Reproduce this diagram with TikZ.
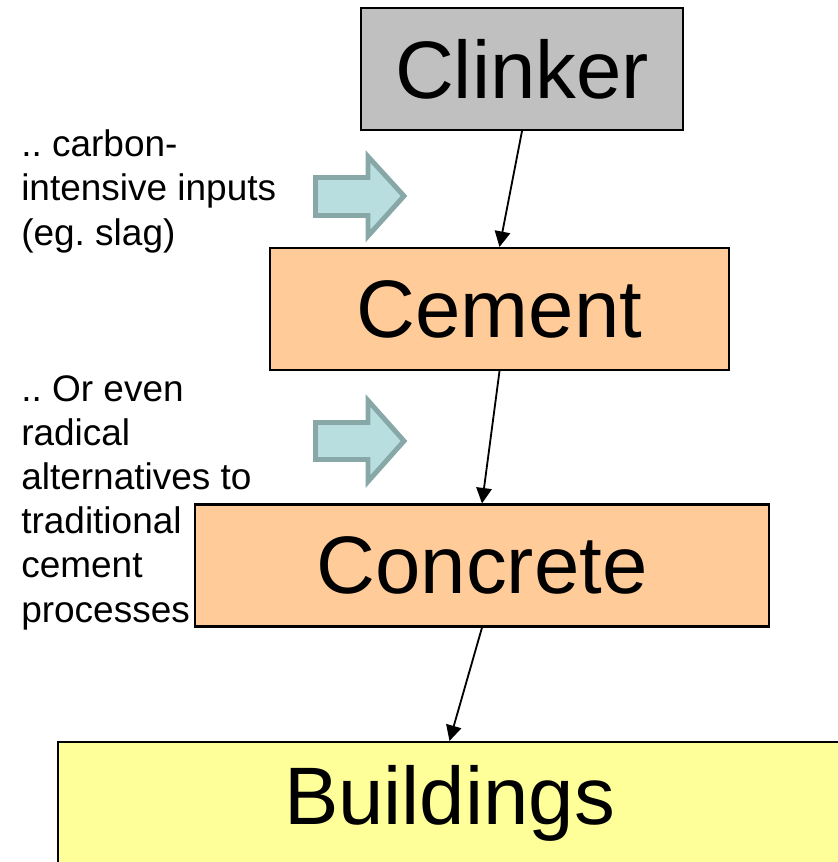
\documentclass[tikz,border=0pt]{standalone}
\usepackage{fontspec}
\setmainfont{Liberation Sans}
\usetikzlibrary{arrows.meta}
\definecolor{klinkergrau}{RGB}{192,192,192}
\definecolor{zementorange}{RGB}{255,204,153}
\definecolor{gebaeudegelb}{RGB}{255,255,153}
\definecolor{pfeilblau}{RGB}{184,222,224}
\definecolor{pfeilrand}{RGB}{136,168,168}
\frenchspacing

\begin{document}
\begin{tikzpicture}[x=0.025cm, y=-0.025cm,
	stufe/.style={draw=black, line width=1.5pt, inner sep=0pt, font=\fontsize{58}{60}\selectfont, minimum height=3.05cm},
	fluss/.style={-{Triangle[length=11pt,width=11pt]}, line width=1.3pt},
	block/.style={fill=pfeilblau, draw=pfeilrand, line width=3.5pt, line join=miter},
	notiz/.style={anchor=base west, align=left, inner sep=0pt, font=\fontsize{26.3}{31.3}\selectfont}]
	\useasboundingbox (0,0) rectangle (837,862);
	% stufen von oben nach unten
	\node[stufe, fill=klinkergrau, minimum width=8.05cm] (clinker) at (522,69) {Clinker};
	\node[stufe, fill=zementorange, minimum width=11.475cm] (cement) at (499.5,309) {Cement};
	\node[stufe, fill=zementorange, minimum width=14.35cm] (concrete) at (482,565.5) {Concrete};
	\node[stufe, fill=gebaeudegelb, minimum width=19.575cm] (buildings) at (449.5,803) {Buildings};
	% pfeile zwischen den stufen
	\draw[fluss] (clinker.south) -- (cement.north);
	\draw[fluss] (cement.south) -- (concrete.north);
	\draw[fluss] (concrete.south) -- (buildings.north);
	% blockpfeile
	\draw[block] (315.5,177.5) -- (368,177.5) -- (368,156.5) -- (404,196) -- (368,236) -- (368,215.5) -- (315.5,215.5) -- cycle;
	\draw[block] (315.5,422.5) -- (368,422.5) -- (368,400.5) -- (404,441) -- (368,481.5) -- (368,459.5) -- (315.5,459.5) -- cycle;
	% texte links (base = letzte zeile)
	\node[notiz] (eingaben) at (21,245) {.. carbon-\\intensive inputs\\(eg. slag)};
	\node[notiz] (alternativen) at (21,622) {.. Or even\\radical\\alternatives to\\traditional\\cement\\processes};
\end{tikzpicture}
\end{document}
